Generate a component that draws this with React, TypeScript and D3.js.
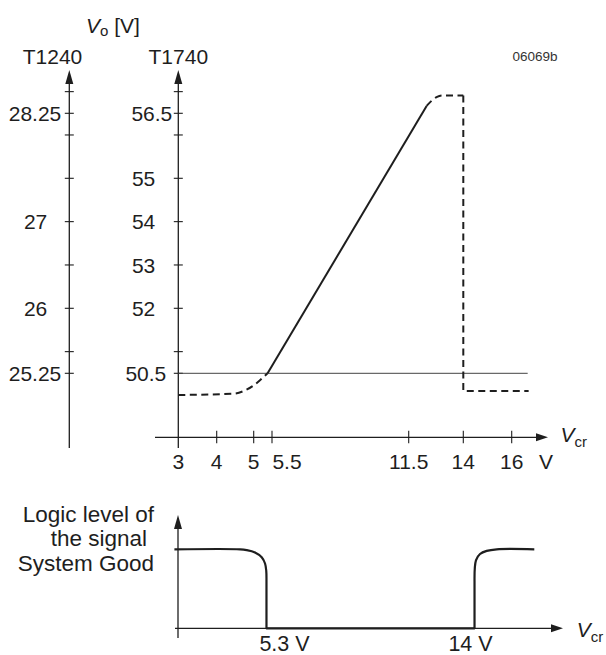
import React from 'react';
import * as d3 from 'd3';

// ---- data ----
// Vcr axis ticks (the axis is drawn piecewise, not linear)
const vcrTicks = [3, 4, 5, 5.5, 11.5, 14, 16];
// T1740 output voltage axis
const t1740Labels = [56.5, 55, 54, 53, 52, 50.5];
const t1740Minor = [57, 56, 51];
// T1240 output voltage axis (half of T1740)
const t1240Labels = [28.25, 27, 26, 25.25];
const t1240Minor = [28.5, 28, 27.5, 26.5, 25.5];

// Vo(Vcr) curve, [Vcr, Vo(T1740)]
const startDash: [number, number][] = [[3, 50.0], [4.45, 50.03], [4.75, 50.1], [5.0, 50.22], [5.2, 50.36], [5.38, 50.5]];
const rampLine: [number, number][] = [[5.38, 50.5], [12.32, 56.67]];
const topDash: [number, number][] = [[12.32, 56.67], [12.55, 56.79], [12.8, 56.88], [13.05, 56.91], [14, 56.91]];
const cutoffDash: [number, number][] = [[14, 56.91], [14, 50.09], [16.7, 50.09]];
const refLevel = 50.5;
const refRange = [3, 16.66];

// System Good logic level, [Vcr, level]
const sgFall: [number, number][] = [[1.45, 1], [4.2, 1], [4.47, 0.99], [4.82, 0.96], [5.1, 0.9], [5.24, 0.82], [5.29, 0.73], [5.3, 0.6]];
const sgLow: [number, number][] = [[5.3, 0.6], [5.3, 0], [14, 0], [14, 0.6]];
const sgRise: [number, number][] = [[14, 0.6], [14.06, 0.86], [14.23, 0.94], [14.51, 0.98], [14.93, 1], [16.5, 1]];
const sgThresholds = ['5.3 V', '14 V'];
const sgThresholdValues = [5.3, 14];

// ---- layout ----
const W = 606;
const H = 655;
const FONT = '"Liberation Sans", Arial, Helvetica, sans-serif';
const INK = '#1e1e1e';
const FS = 21;

const x = d3.scaleLinear()
  .domain(vcrTicks)
  .range([178.3, 216.7, 253.7, 272, 408.7, 463.3, 511.7]);
const y = d3.scaleLinear().domain([50.5, 55]).range([373.3, 178.3]);
const yLeft = d3.scaleLinear().domain([25.25, 27.5]).range([373.3, 178.3]);

const leftAxisX = 69.3;
const rightAxisX = x(3);
const axisTop = 70;
const axisBottom = 448;
const xAxisY = 437.3;
const xAxisStart = 155;
const xAxisTip = 548;

const lx = d3.scaleLinear().domain([1.6, 17.7]).range([178, 563]);
const ly = d3.scaleLinear().domain([0, 1]).range([628.3, 549.3]);
const lowAxisTop = 515;
const lowAxisBottom = 638;
const lowAxisStart = 175;

const curveLine = d3.line<[number, number]>().x(d => x(d[0])).y(d => y(d[1])).curve(d3.curveMonotoneX);
const straight = d3.line<[number, number]>().x(d => x(d[0])).y(d => y(d[1]));
const sgCurve = d3.line<[number, number]>().x(d => lx(d[0])).y(d => ly(d[1])).curve(d3.curveCatmullRom.alpha(0.5));
const sgStraight = d3.line<[number, number]>().x(d => lx(d[0])).y(d => ly(d[1]));

const arrowUp = (cx: number, tip: number) => `${cx},${tip} ${cx - 4},${tip + 14} ${cx + 4},${tip + 14}`;
const arrowRight = (tip: number, cy: number) => `${tip},${cy} ${tip - 12},${cy - 4} ${tip - 12},${cy + 4}`;

// horizontal offset of each y label's right edge from its axis
const rightLabelDx = (v: number) => (v === 56.5 ? -6 : v === 50.5 ? -12 : -23);
const leftLabelDx = (v: number) => (v === 28.25 || v === 25.25 ? -8 : -22);
// the 5.5 label sits to the right of its tick
const xLabelDx = (v: number) => (v === 5.5 ? 15 : 0);

const dash = '7,4.5';

const App: React.FC = () => {
  return (
    <svg width={W} height={H} style={{ position: 'absolute', left: 0, top: 0, background: '#fff' }}
      fontFamily={FONT} fill={INK}>
      {/* titles */}
      <text x={86} y={33} fontSize={FS}>
        <tspan fontStyle="italic">V</tspan>
        <tspan fontSize={15} dy={3}>o</tspan>
        <tspan dy={-3}> [V]</tspan>
      </text>
      <text x={52.5} y={64} fontSize={FS} textAnchor="middle">T1240</text>
      <text x={rightAxisX} y={64} fontSize={FS} textAnchor="middle">T1740</text>
      <text x={535} y={60.5} fontSize={13.5} textAnchor="middle" fill="#333">06069b</text>

      {/* left axis T1240 */}
      <line x1={leftAxisX} x2={leftAxisX} y1={axisTop + 8} y2={axisBottom} stroke={INK} strokeWidth={1.3} />
      <polygon points={arrowUp(leftAxisX, axisTop)} fill={INK} />
      {[...t1240Labels, ...t1240Minor].map(v => (
        <line key={'lt' + v} x1={leftAxisX - 4.5} x2={leftAxisX + 4.5} y1={yLeft(v)} y2={yLeft(v)} stroke={INK} strokeWidth={1.1} />
      ))}
      {t1240Labels.map(v => (
        <text key={'ll' + v} x={leftAxisX + leftLabelDx(v)} y={yLeft(v)} dy="0.36em" fontSize={FS} textAnchor="end">{v}</text>
      ))}

      {/* right axis T1740 */}
      <line x1={rightAxisX} x2={rightAxisX} y1={axisTop + 8} y2={axisBottom} stroke={INK} strokeWidth={1.3} />
      <polygon points={arrowUp(rightAxisX, axisTop)} fill={INK} />
      {[...t1740Labels, ...t1740Minor].map(v => (
        <line key={'rt' + v} x1={rightAxisX - 4.5} x2={rightAxisX + 4.5} y1={y(v)} y2={y(v)} stroke={INK} strokeWidth={1.1} />
      ))}
      {t1740Labels.map(v => (
        <text key={'rl' + v} x={rightAxisX + rightLabelDx(v)} y={y(v)} dy="0.36em" fontSize={FS} textAnchor="end">{v}</text>
      ))}

      {/* Vcr axis */}
      <line x1={xAxisStart} x2={xAxisTip - 8} y1={xAxisY} y2={xAxisY} stroke={INK} strokeWidth={1.3} />
      <polygon points={arrowRight(xAxisTip, xAxisY)} fill={INK} />
      {vcrTicks.slice(1).map(v => (
        <line key={'xt' + v} x1={x(v)} x2={x(v)} y1={xAxisY - 6.5} y2={xAxisY + 6} stroke={INK} strokeWidth={1.1} />
      ))}
      {vcrTicks.map(v => (
        <text key={'xl' + v} x={x(v) + xLabelDx(v)} y={469} fontSize={FS} textAnchor="middle">{v}</text>
      ))}
      <text x={546} y={469} fontSize={FS} textAnchor="middle">V</text>
      <text x={560.5} y={442.3} fontSize={FS}>
        <tspan fontStyle="italic">V</tspan>
        <tspan fontSize={15} dy={5}>cr</tspan>
      </text>

      {/* reference level */}
      <line x1={x(refRange[0])} x2={x(refRange[1])} y1={y(refLevel)} y2={y(refLevel)} stroke="#444" strokeWidth={1} />

      {/* output voltage curve */}
      <g fill="none" stroke={INK} strokeWidth={2}>
        <path d={curveLine(startDash) ?? ''} strokeDasharray={dash} />
        <path d={straight(rampLine) ?? ''} />
        <path d={curveLine(topDash) ?? ''} strokeDasharray={dash} />
        <path d={straight(cutoffDash) ?? ''} strokeDasharray={dash} />
      </g>

      {/* System Good logic chart */}
      <text fontSize={22.5} textAnchor="end">
        <tspan x={154} y={522}>Logic level of</tspan>
        <tspan x={147} y={546}>the signal</tspan>
        <tspan x={154} y={570.7}>System Good</tspan>
      </text>
      <line x1={lx(1.6)} x2={lx(1.6)} y1={lowAxisTop + 8} y2={lowAxisBottom} stroke={INK} strokeWidth={1.3} />
      <polygon points={arrowUp(lx(1.6), lowAxisTop)} fill={INK} />
      <line x1={lowAxisStart} x2={lx(17.7) - 8} y1={ly(0)} y2={ly(0)} stroke={INK} strokeWidth={1.3} />
      <polygon points={arrowRight(lx(17.7), ly(0))} fill={INK} />
      <g fill="none" stroke={INK} strokeWidth={2.2} strokeLinejoin="round">
        <path d={sgCurve(sgFall) ?? ''} />
        <path d={sgStraight(sgLow) ?? ''} />
        <path d={sgCurve(sgRise) ?? ''} />
      </g>
      {sgThresholds.map((t, i) => (
        <text key={t} x={lx(sgThresholdValues[i]) + (i === 0 ? 18 : -4)} y={651} fontSize={21.5} textAnchor="middle">{t}</text>
      ))}
      <text x={576.7} y={636.7} fontSize={FS}>
        <tspan fontStyle="italic">V</tspan>
        <tspan fontSize={15} dy={5}>cr</tspan>
      </text>
    </svg>
  );
};

export default App;
